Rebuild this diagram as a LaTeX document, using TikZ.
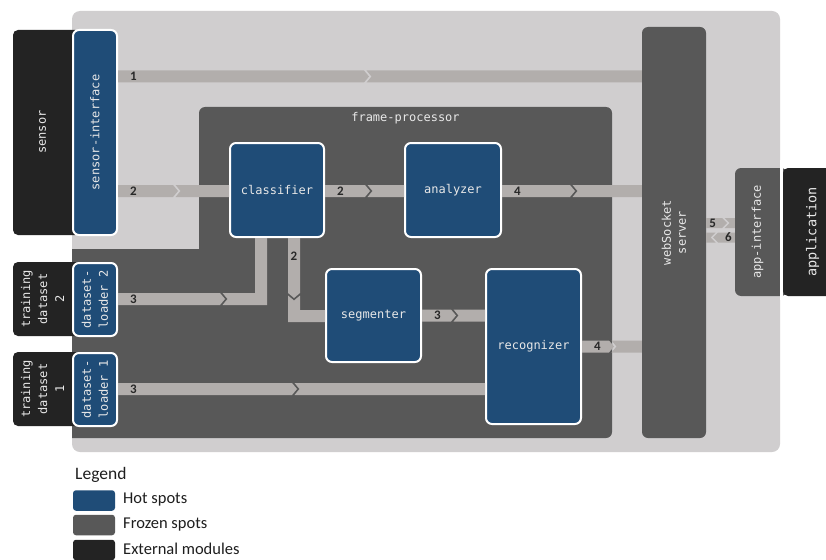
\documentclass[tikz,border=0pt]{standalone}
\usepackage{fontspec}
\setmainfont{Carlito}
\newfontfamily\monof{DejaVu Sans Mono}
\usetikzlibrary{calc}

\definecolor{panelc}{RGB}{208,206,207}
\definecolor{frozenc}{RGB}{88,88,88}
\definecolor{hotc}{RGB}{31,76,119}
\definecolor{extc}{RGB}{35,35,35}
\definecolor{bandc}{RGB}{178,174,172}
\definecolor{txtc}{RGB}{232,232,232}
\definecolor{numc}{RGB}{40,40,40}
\definecolor{legc}{RGB}{30,30,30}

% band geometry: half height, chevron depth, chevron gap
\def\bh{6pt}\def\bt{5pt}\def\bg{2.5pt}

% rightward band with a chevron break
% #1 label node name, #2 start, #3 chevron x, #4 end, #5 number
\newcommand\rband[5]{%
  \fill[band] let \p1=(#2), \p2=(#3), \p3=(#4) in
    (\x1,\y1+\bh) -- (\x2,\y1+\bh) -- (\x2+\bt,\y1) -- (\x2,\y1-\bh) -- (\x1,\y1-\bh) -- cycle
    (\x2+\bg,\y1+\bh) -- (\x3,\y1+\bh) -- (\x3,\y1-\bh) -- (\x2+\bg,\y1-\bh) -- (\x2+\bg+\bt,\y1) -- cycle
    (\x1+12pt,\y1) node[num,anchor=west] (#1) {#5};}

\tikzset{
  hotbox/.style={fill=hotc, draw=white, line width=2pt, rounded corners=6pt, inner sep=0pt},
  frozenbox/.style={fill=frozenc, rounded corners=6pt, inner sep=0pt},
  extbox/.style={fill=extc, rounded corners=5pt, inner sep=0pt},
  boxtext/.style={text=txtc, font=\monof\fontsize{12}{17}\selectfont, align=center, inner sep=0pt},
  vtext/.style={boxtext, rotate=90},
  band/.style={fill=bandc},
  num/.style={font=\bfseries\fontsize{13}{13}\selectfont, text=numc, inner sep=0pt},
  legtext/.style={font=\fontsize{16.5}{18}\selectfont, text=legc, anchor=west, inner sep=0pt},
  swatch/.style={rounded corners=3pt, minimum width=42pt, minimum height=20.5pt, inner sep=0pt},
}

\begin{document}
\begin{tikzpicture}[x=1pt,y=-1pt]
\useasboundingbox[fill=white] (0,0) rectangle (826,559);

% outer light panel
\fill[panelc, rounded corners=8pt] (72,11) rectangle (780,452);

% frame-processor region (L-shaped)
\fill[frozenc] [rounded corners=6pt] (199,180) -- (199,107) -- (612,107) -- (612,438) -- (100,438)
  [sharp corners] -- (72,438) -- (72,249) -- (199,249) -- cycle;
\node[boxtext, anchor=north] (fp) at (405.5,112) {frame-processor};

% frozen modules
\node[frozenbox, minimum width=64, minimum height=411] (ws) at (674,232.5) {};
\node[vtext, font=\monof\fontsize{12}{15}\selectfont] (ws-t) at (ws) {webSocket\\server};
\node[frozenbox, minimum width=52, minimum height=128] (appif) at (761,232) {};
\fill[white] (780,160) rectangle (783,300);

% external modules
\node[extbox, minimum width=59, minimum height=128] (appl) at (812.5,232) {};
\node[vtext, font=\monof\fontsize{13.5}{16}\selectfont] (appl-t) at (appl) {application};
\node[extbox, minimum width=67, minimum height=205] (sensor) at (46.5,132.5) {};
\node[extbox, minimum width=67, minimum height=74] (ts2) at (46.5,299) {};
\node[extbox, minimum width=67, minimum height=74] (ts1) at (46.5,389) {};
\node[vtext] (sensor-t) at (42.5,132) {sensor};
\node[vtext] (ts2-t) at (42.5,299) {training\\dataset\\2};
\node[vtext] (ts1-t) at (42.5,389) {training\\dataset\\1};
\node[vtext] (appif-t) at (757.5,232) {app-interface};

% hot-spot boxes (shapes only, text below)
\path
  (95,132.5)   node[hotbox, minimum width=44, minimum height=205] (sensint) {}
  (95,299.5)   node[hotbox, minimum width=44, minimum height=73]  (dl2) {}
  (95,389.5)   node[hotbox, minimum width=44, minimum height=73]  (dl1) {}
  (277,190)    node[hotbox, minimum width=94, minimum height=94]  (classifier) {}
  (453,190)    node[hotbox, minimum width=96, minimum height=94]  (analyzer) {}
  (373.5,315.5) node[hotbox, minimum width=95, minimum height=93] (segmenter) {}
  (533.5,346.5) node[hotbox, minimum width=95, minimum height=155] (recognizer) {};

% connectors
\rband{n1}{sensint.east |- 0,76.5}{364,0}{ws.west |- 0,76.5}{1}
\rband{n2a}{sensint.east |- 0,191}{173,0}{classifier.west |- 0,191}{2}
\rband{n2b}{classifier.east |- 0,191}{365,0}{analyzer.west |- 0,191}{2}
\rband{n4a}{analyzer.east |- 0,191}{570,0}{ws.west |- 0,191}{4}
\rband{n3b}{dl1.east |- 0,389}{292,0}{recognizer.west |- 0,389}{3}
\rband{n3c}{segmenter.east}{451,0}{recognizer.west |- segmenter.east}{3}
\rband{n4b}{recognizer.east}{609,0}{ws.west |- recognizer.east}{4}

% dataset-loader 2 -> classifier, turning upward
\coordinate (b3) at (261,299);
\fill[band] let \p1=(dl2.east |- b3), \p2=(b3), \p3=(classifier.south -| b3), \p4=(220,0) in
  (\x1,\y1+\bh) -- (\x4,\y1+\bh) -- (\x4+\bt,\y1) -- (\x4,\y1-\bh) -- (\x1,\y1-\bh) -- cycle
  (\x4+\bg,\y1+\bh) -- (\x2-\bh,\y1+\bh) -- (\x3-\bh,\y3) -- (\x3+\bh,\y3) -- (\x2+\bh,\y1-\bh)
    -- (\x4+\bg,\y1-\bh) -- (\x4+\bg+\bt,\y1) -- cycle
  (\x1+12pt,\y1) node[num,anchor=west] (n3a) {3};

% classifier -> segmenter, turning right
\coordinate (b2) at (294,316);
\fill[band] let \p1=(classifier.south -| b2), \p2=(b2), \p3=(segmenter.west |- b2), \p4=(0,293) in
  (\x1-\bh,\y1) -- (\x1+\bh,\y1) -- (\x1+\bh,\y4) -- (\x1,\y4-\bt) -- (\x1-\bh,\y4) -- cycle
  (\x1-\bh,\y4-\bg) -- (\x1,\y4-\bg-\bt) -- (\x1+\bh,\y4-\bg) -- (\x2+\bh,\y2+\bh)
    -- (\x3,\y2+\bh) -- (\x3,\y2-\bh) -- (\x2-\bh,\y2-\bh) -- cycle
  (\x1,\y1-18pt) node[num] (n2c) {2};

% webSocket server <-> app-interface
\begingroup\def\bh{5pt}
\fill[band] let \p1=(ws.east |- 0,223), \p2=(722,0), \p3=(appif.west |- 0,223) in
  (\x1,\y1+\bh) -- (\x2,\y1+\bh) -- (\x2+\bt,\y1) -- (\x2,\y1-\bh) -- (\x1,\y1-\bh) -- cycle
  (\x2+\bg,\y1+\bh) -- (\x3,\y1+\bh) -- (\x3,\y1-\bh) -- (\x2+\bg,\y1-\bh) -- (\x2+\bg+\bt,\y1) -- cycle
  (\x1+3pt,\y1) node[num,anchor=west] (n5) {5};
\fill[band] let \p1=(appif.west |- 0,237.5), \p2=(718,0), \p3=(ws.east |- 0,237.5) in
  (\x1,\y1+\bh) -- (\x2,\y1+\bh) -- (\x2-\bt,\y1) -- (\x2,\y1-\bh) -- (\x1,\y1-\bh) -- cycle
  (\x2-\bg,\y1+\bh) -- (\x3,\y1+\bh) -- (\x3,\y1-\bh) -- (\x2-\bg,\y1-\bh) -- (\x2-\bg-\bt,\y1) -- cycle
  (\x1-3pt,\y1) node[num,anchor=east] (n6) {6};
\endgroup

% hot-spot labels
\node[vtext] (sensint-t) at (sensint) {sensor-interface};
\node[vtext] (dl2-t) at (dl2) {dataset-\\loader 2};
\node[vtext] (dl1-t) at (dl1) {dataset-\\loader 1};
\node[boxtext] (classifier-t) at (classifier) {classifier};
\node[boxtext] (analyzer-t) at (analyzer) {analyzer};
\node[boxtext] (segmenter-t) at (segmenter) {segmenter};
\node[boxtext] (recognizer-t) at (recognizer) {recognizer};

% legend
\node[legtext, font=\fontsize{17.5}{20}\selectfont] (legend) at (75,475) {Legend};
\node[swatch, fill=hotc] (sw1) at (94,500.5) {};
\node[swatch, fill=frozenc] (sw2) at (94,525) {};
\node[swatch, fill=extc] (sw3) at (94,550) {};
\node[legtext] (lg1) at (123,500) {Hot spots};
\node[legtext] (lg2) at (123,524.5) {Frozen spots};
\node[legtext] (lg3) at (123,549) {External modules};
\end{tikzpicture}
\end{document}
